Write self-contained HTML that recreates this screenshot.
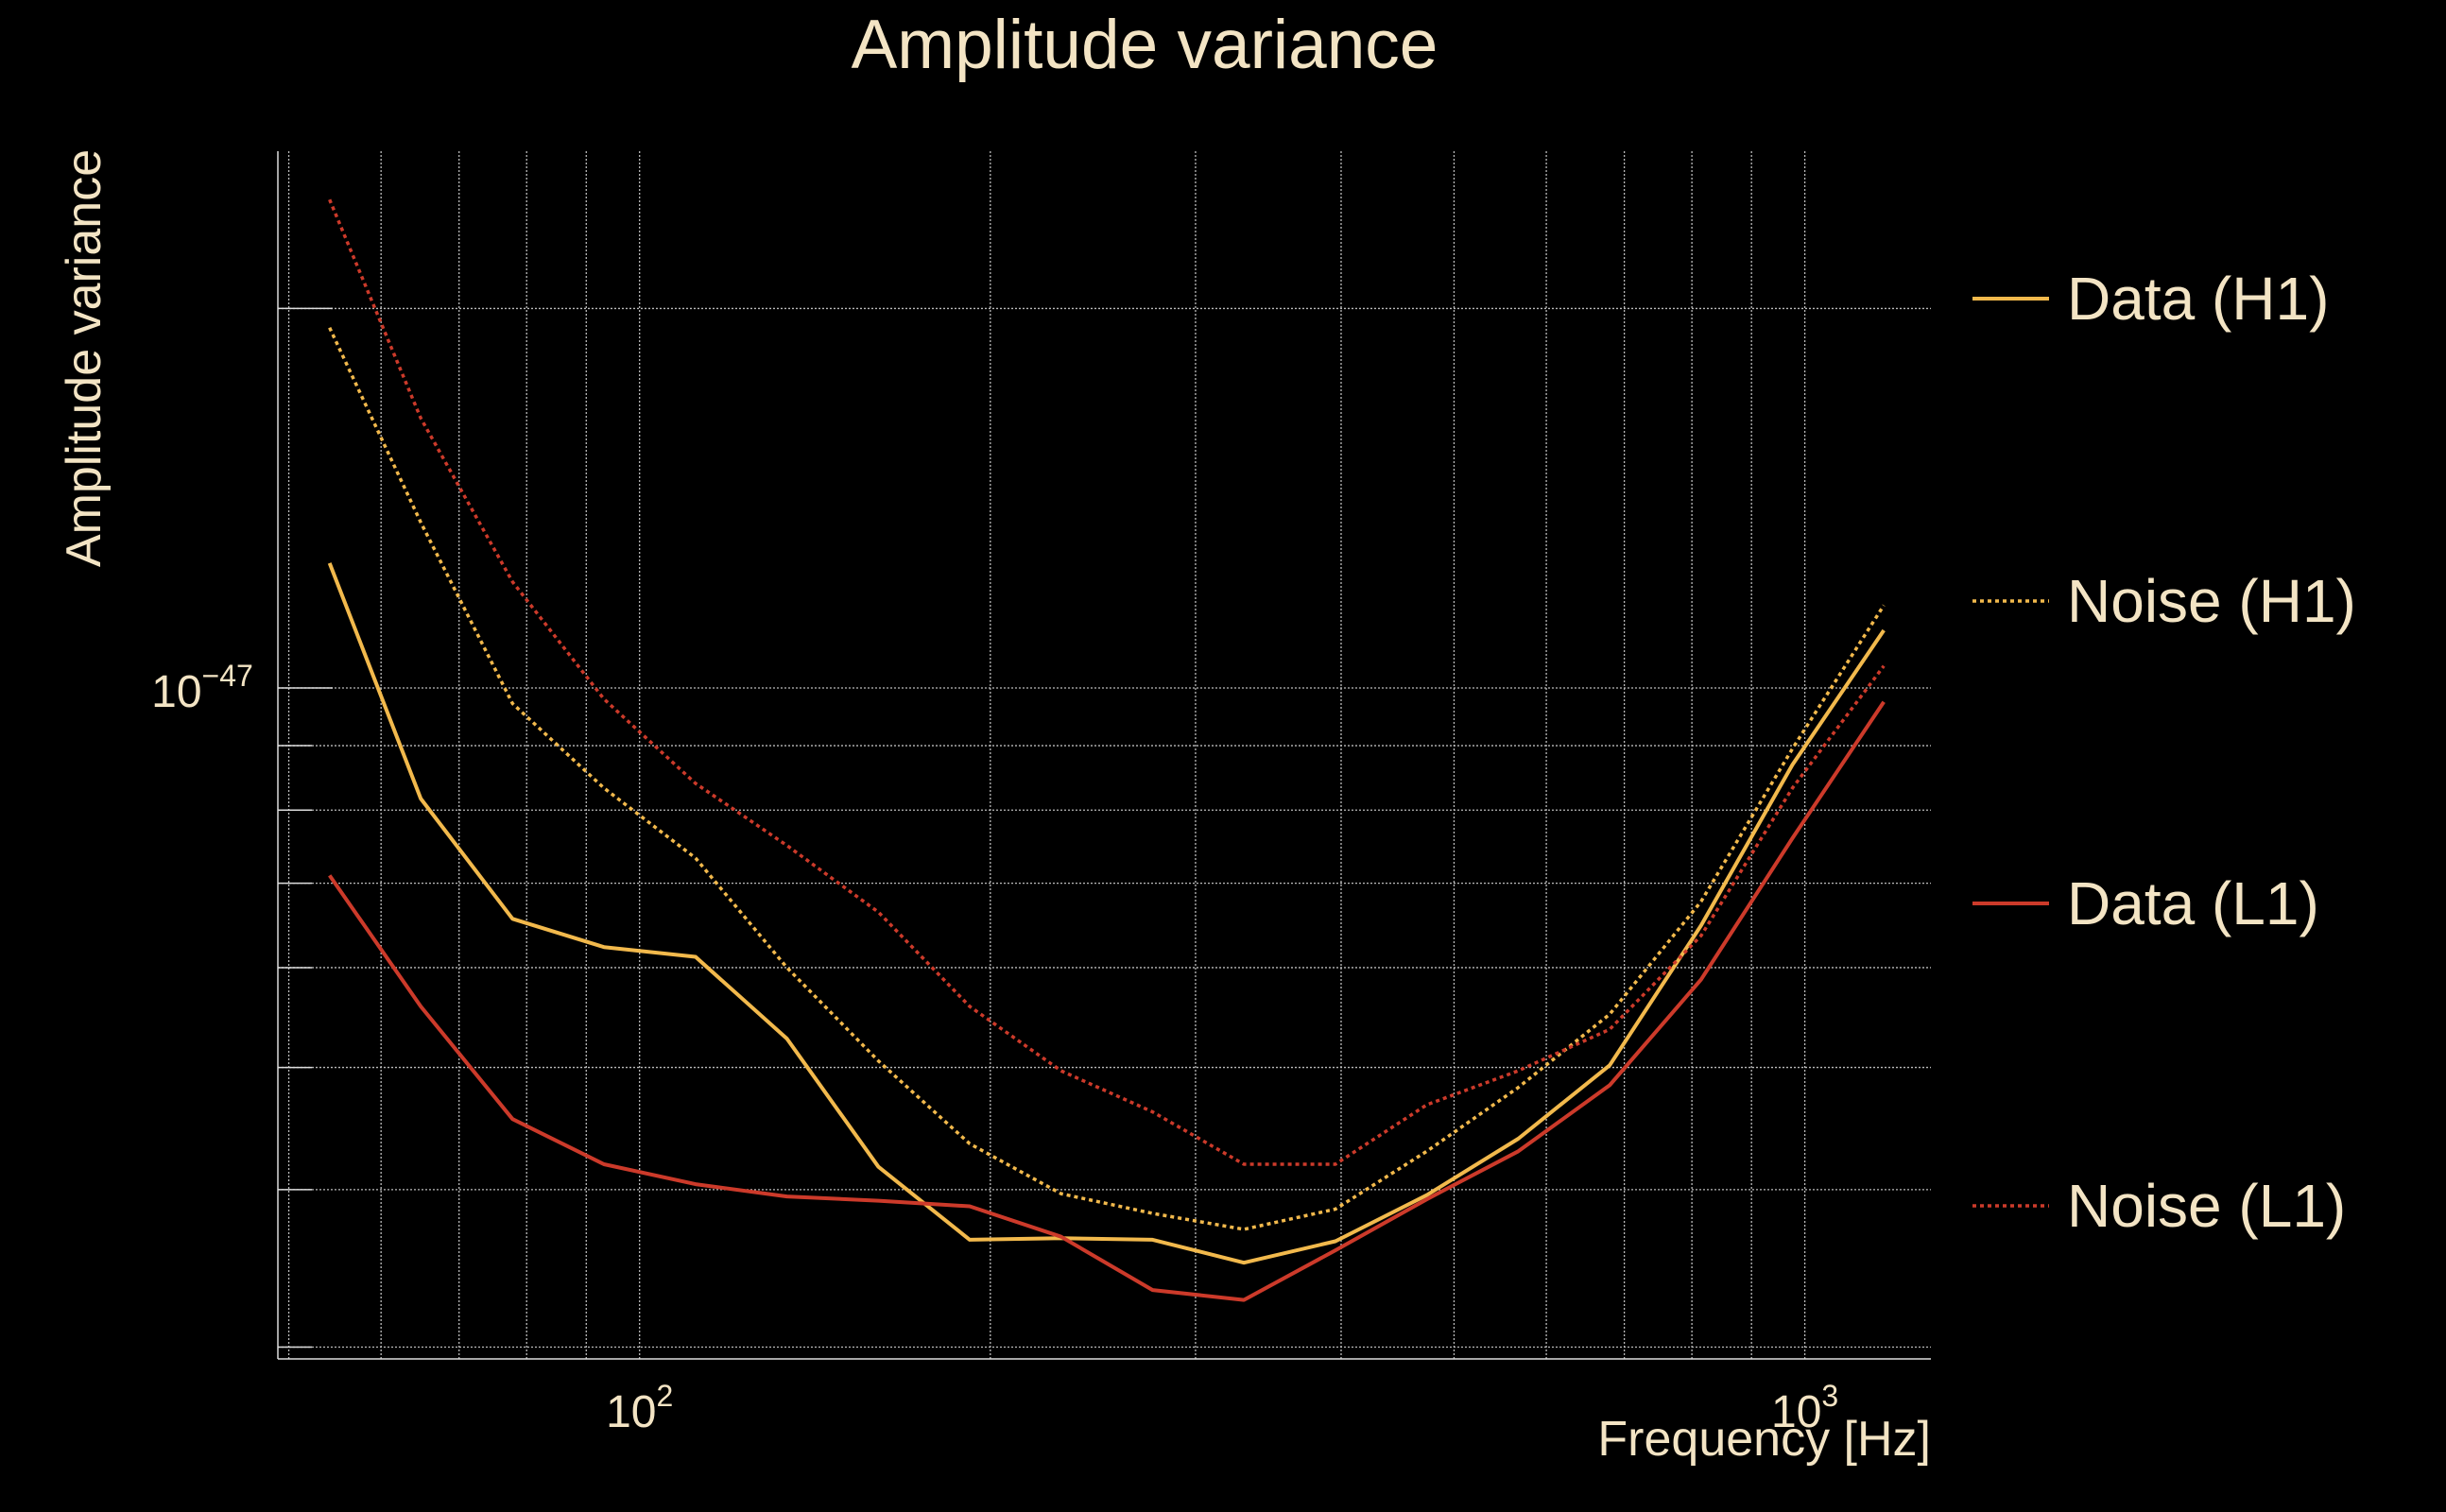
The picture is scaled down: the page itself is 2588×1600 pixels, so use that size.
<!DOCTYPE html>
<html><head><meta charset="utf-8">
<style>
html,body{margin:0;padding:0;background:#000;}
svg{display:block;}
text{font-family:"Liberation Sans",sans-serif;fill:#f3e4c4;}
</style></head>
<body>
<svg id="chart" width="2588" height="1600" viewBox="0 0 2588 1600" xmlns="http://www.w3.org/2000/svg">
<rect width="2588" height="1600" fill="#000"/>
<g id="grid"></g>
<g id="axes"></g>
<g id="series"></g>
<text x="1211" y="72" font-size="73" text-anchor="middle">Amplitude variance</text>
<text x="0" y="0" font-size="52" text-anchor="middle" transform="translate(106,379) rotate(-90)">Amplitude variance</text>
<text x="2043" y="1540" font-size="52" text-anchor="end">Frequency [Hz]</text>
<g id="legend"></g>
</svg>
<script>
const frequencies = [54.2,64.9,77.8,93.2,111.7,133.8,160.3,192.0,230.0,275.6,330.1,395.5,473.8,567.6,680.0,814.6,975.9,1169];
// values in units of 1e-48
const dataH1 = [12.56,8.17,6.56,6.23,6.12,5.27,4.17,3.65,3.66,3.65,3.50,3.64,3.96,4.39,5.02,6.48,8.69,11.11];
const dataL1 = [7.10,5.59,4.55,4.19,4.04,3.95,3.92,3.88,3.67,3.33,3.27,3.58,3.93,4.29,4.84,5.87,7.60,9.75];
const noiseH1 = [19.31,13.53,9.72,8.33,7.33,6.00,5.06,4.35,3.97,3.83,3.72,3.86,4.29,4.82,5.51,6.77,8.95,11.63];
const noiseL1 = [24.40,16.37,12.14,9.80,8.40,7.50,6.64,5.59,4.97,4.61,4.19,4.19,4.67,4.97,5.36,6.36,8.33,10.41];
const xGridVals = [50,60,70,80,90,100,200,300,400,500,600,700,800,900,1000];
const yGridVals = [3,4,5,6,7,8,9,10,20];
const xTickLabels = [{v:100,e:"2"},{v:1000,e:"3"}];
const yTickLabels = [{v:10,e:"\u221247"}];

const L=294,R=2043,T=160,B=1438;
function xs(f){return 676.7+1232.9*Math.log10(f/100);}
function ys(v){return 728-1334*Math.log10(v/10);}
const NS="http://www.w3.org/2000/svg";
function mk(tag,attrs,parent){const e=document.createElementNS(NS,tag);for(const k in attrs)e.setAttribute(k,attrs[k]);parent.appendChild(e);return e;}
const grid=document.getElementById('grid'),axes=document.getElementById('axes'),series=document.getElementById('series'),legend=document.getElementById('legend');
function topTick(v){return v===10||v===20?58:36;}

xGridVals.forEach(f=>{const x=xs(f);
 const l=mk('line',{x1:x,x2:x,y1:T,y2:B,stroke:'#bbb','stroke-width':1.3,'stroke-dasharray':'2 2'},grid);
 
 
});
yGridVals.forEach(v=>{const y=ys(v);
 const l=mk('line',{x1:L,x2:R,y1:y,y2:y,stroke:'#bbb','stroke-width':1.3,'stroke-dasharray':'2 2'},grid);
 
 
 const t=mk('line',{x1:L,x2:L+topTick(v),y1:y,y2:y,stroke:'#ddd','stroke-width':1.5},axes);
 
 
});
const sp=mk('line',{x1:L,x2:L,y1:T,y2:B,stroke:'#ddd','stroke-width':1.5},axes);


const sb=mk('line',{x1:L,x2:R,y1:B,y2:B,stroke:'#ddd','stroke-width':1.5},axes);



xTickLabels.forEach(o=>{const t=mk('text',{x:xs(o.v),y:1510,'font-size':48,'text-anchor':'middle'},axes);
 
 
 t.innerHTML='10<tspan dy="-22" font-size="32">'+o.e+'</tspan>';
});
yTickLabels.forEach(o=>{const t=mk('text',{x:L-80,y:ys(o.v)+20,'font-size':48,'text-anchor':'middle'},axes);
 
 
 t.innerHTML='10<tspan dy="-22" font-size="32">'+o.e+'</tspan>';
});

const defs=[
 {vals:dataH1,color:'#f2b94c',dash:null,name:'Data (H1)',key:'data-h1'},
 {vals:noiseH1,color:'#f2b94c',dash:'4 4',name:'Noise (H1)',key:'noise-h1'},
 {vals:dataL1,color:'#cc3a2a',dash:null,name:'Data (L1)',key:'data-l1'},
 {vals:noiseL1,color:'#cc3a2a',dash:'4 4',name:'Noise (L1)',key:'noise-l1'}];
defs.forEach((d,i)=>{
 const pts=d.vals.map((v,k)=>xs(frequencies[k]).toFixed(1)+','+ys(v).toFixed(1)).join(' ');
 const a={points:pts,fill:'none',stroke:d.color,'stroke-width':d.dash?3.5:4,'stroke-linejoin':'round'};
 if(d.dash)a['stroke-dasharray']=d.dash;
 const p=mk('polyline',a,series);
 
 
 const ly=316+i*320;
 const g=mk('g',{},legend);
 
 
 const la={x1:2087,x2:2168,y1:ly,y2:ly,stroke:d.color,'stroke-width':d.dash?3.5:4};
 if(d.dash)la['stroke-dasharray']=d.dash;
 mk('line',la,g);
 const t=mk('text',{x:2187,y:ly+22,'font-size':64},g);
 t.textContent=d.name;
});
</script>
</body></html>
